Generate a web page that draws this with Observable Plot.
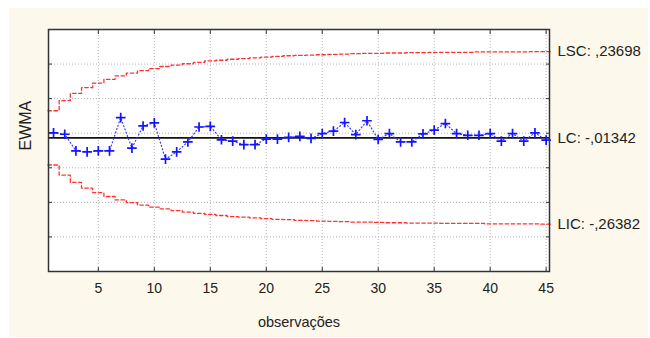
<!DOCTYPE html>
<html><head><meta charset="utf-8">
<script src="https://cdn.jsdelivr.net/npm/d3@7"></script>
<script src="https://cdn.jsdelivr.net/npm/@observablehq/plot@0.6"></script>
<style>
html,body{margin:0;padding:0;background:#fff;}
#wrap{position:relative;width:650px;height:338px;overflow:hidden;}
#bg{position:absolute;left:9px;top:8px;width:639px;height:329px;background:#fdf8ec;}
#chart{position:absolute;left:0;top:0;}
</style></head><body>
<div id="wrap"><div id="bg"></div><div id="chart"></div></div>
<script>
// observations 1..45
const observations = d3.range(1, 46);
// EWMA statistic per observation
const ewma = [0.001,-0.003,-0.051,-0.054,-0.051,-0.051,0.045,-0.043,0.021,0.030,
  -0.075,-0.054,-0.025,0.018,0.020,-0.019,-0.023,-0.033,-0.033,-0.017,
  -0.017,-0.012,-0.009,-0.015,-0.001,0.006,0.031,-0.004,0.036,-0.018,
  -0.001,-0.025,-0.025,-0.002,0.009,0.028,-0.001,-0.006,-0.006,-0.001,
  -0.023,-0.001,-0.023,0.001,-0.020];
// upper control limit (LSC) per observation
const upper = [0.065,0.094,0.115,0.132,0.145,0.156,0.166,0.174,0.181,0.187,
  0.193,0.197,0.201,0.205,0.209,0.211,0.214,0.216,0.218,0.220,
  0.222,0.224,0.225,0.226,0.227,0.228,0.229,0.230,0.231,0.231,
  0.232,0.232,0.233,0.233,0.234,0.234,0.234,0.234,0.235,0.235,
  0.235,0.235,0.235,0.236,0.236];
// lower control limit (LIC) per observation
const lower = [-0.092,-0.121,-0.142,-0.159,-0.172,-0.183,-0.193,-0.201,-0.208,-0.214,
  -0.219,-0.224,-0.228,-0.232,-0.235,-0.238,-0.241,-0.243,-0.245,-0.247,
  -0.249,-0.250,-0.252,-0.253,-0.254,-0.255,-0.256,-0.257,-0.257,-0.258,
  -0.259,-0.259,-0.260,-0.260,-0.260,-0.261,-0.261,-0.261,-0.261,-0.262,
  -0.262,-0.262,-0.262,-0.262,-0.263];
const centerLine = -0.01342;
const limitValues = [0.23698, -0.01342, -0.26382];
const limitLabels = ["LSC: ,23698", "LC: -,01342", "LIC: -,26382"];
const xTicks = [5, 10, 15, 20, 25, 30, 35, 40, 45];
const yTicks = [0.3, 0.2, 0.1, 0, -0.1, -0.2, -0.3, -0.4];

const pts = observations.map((o, i) => ({x: o, y: ewma[i]}));
const stepOf = arr => observations.flatMap((o, i) => [{x: o - 0.5, y: arr[i]}, {x: o + 0.5, y: arr[i]}]);
const upSteps = stepOf(upper);
const loSteps = stepOf(lower);

const FONT = "'Liberation Sans', Arial, sans-serif";
const txt = "#222";

const chart = Plot.plot({
  width: 650, height: 338,
  marginLeft: 48, marginTop: 29, marginRight: 101, marginBottom: 67,
  style: {background: "transparent", fontFamily: FONT, fontSize: "14px", color: "#222", overflow: "visible"},
  x: {domain: [0.55, 45.3]},
  y: {domain: [-0.4, 0.3]},
  marks: [
    Plot.frame({fill: "white"}),
    Plot.gridX(xTicks, {stroke: "#b4b4b4", strokeOpacity: 1, strokeDasharray: "1,2"}),
    Plot.gridY(yTicks, {stroke: "#b4b4b4", strokeOpacity: 1, strokeDasharray: "1,2"}),
    Plot.ruleY([centerLine], {stroke: "#111", strokeWidth: 1.6}),
    Plot.line(upSteps, {x: "x", y: "y", stroke: "#ff3333", strokeWidth: 1.3, strokeDasharray: "3.5,2.5"}),
    Plot.line(loSteps, {x: "x", y: "y", stroke: "#ff3333", strokeWidth: 1.3, strokeDasharray: "3.5,2.5"}),
    Plot.line(pts, {x: "x", y: "y", stroke: "#3a3aff", strokeWidth: 1.2, strokeDasharray: "1,2.5"}),
    Plot.dot(pts, {x: "x", y: "y", symbol: "plus", r: 3.2, stroke: "#1414ff", strokeWidth: 1.7}),
    Plot.frame({stroke: "#333", strokeWidth: 1.5}),
    Plot.axisX(xTicks, {anchor: "bottom", tickSize: -4, tickFormat: () => "", label: null, stroke: "#333"}),
    Plot.axisX(xTicks, {anchor: "top", tickSize: -4, tickFormat: () => "", label: null, stroke: "#333"}),
    Plot.axisY(yTicks, {anchor: "left", tickSize: -4, tickFormat: () => "", label: null, stroke: "#333"}),
    Plot.axisY(yTicks, {anchor: "right", tickSize: -4, tickFormat: () => "", label: null, stroke: "#333"}),
    Plot.axisX(xTicks, {anchor: "bottom", tickSize: 0, tickPadding: 12, fontSize: 14, label: null, fill: txt}),
    Plot.text(limitLabels, {text: limitLabels, y: limitValues, frameAnchor: "right", dx: 8, textAnchor: "start", fontSize: 15, fill: txt}),
    Plot.text(["observações"], {frameAnchor: "bottom", dy: 55, fontSize: 14.5, fill: txt}),
    Plot.text(["EWMA"], {frameAnchor: "left", dx: -23, rotate: -90, fontSize: 16, fill: txt})
  ]
});
document.getElementById("chart").appendChild(chart);
</script>
</body></html>
